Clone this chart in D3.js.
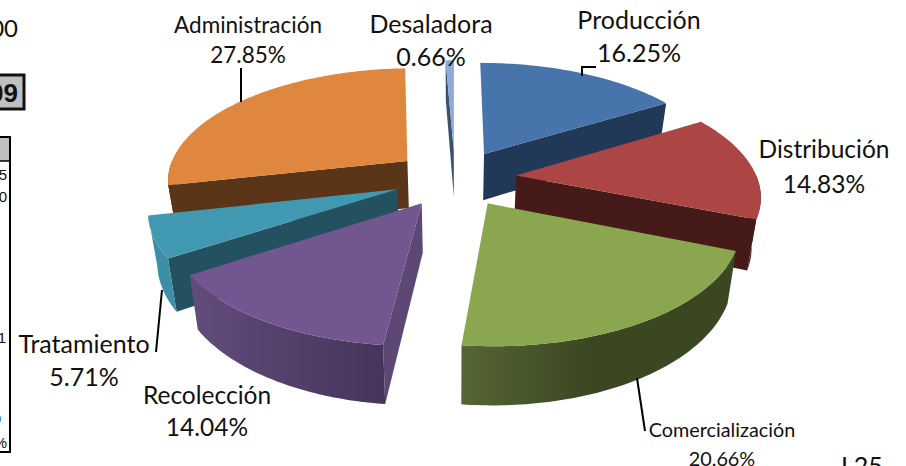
<!DOCTYPE html>
<html>
<head>
<meta charset="utf-8" />
<title>Pie 3D</title>
<script src="https://cdn.jsdelivr.net/npm/d3@7/dist/d3.min.js"></script>
<style>
	html, body { margin: 0; padding: 0; background: #fff; overflow: hidden; }
	svg { display: block; }
	text { font-family: Lato, "Noto Sans", sans-serif; fill: #111; }
</style>
</head>
<body>
<svg id="chart" width="906" height="466"></svg>
<script>
const categories = ['Producción', 'Distribución', 'Comercialización', 'Recolección', 'Tratamiento', 'Administración', 'Desaladora'];
const shares = [16.25, 14.83, 20.66, 14.04, 5.71, 27.85, 0.66];
const topColors = ['#4674ab', '#ab4644', '#8aa64f', '#725690', '#4199b1', '#df873e', '#8fa9d8'];
const startWallColors = ['#213856', '#451a18', '#3a4721', '#5c4775', '#235160', '#5a3518', '#3c5070'];
const endWallColors = ['#213856', '#451a18', '#3a4721', '#5c4775', '#235160', '#5a3518', '#3c5070'];
// outer wall shading, left colour -> right colour over the given part of its width
const outerLeft = ['#213856', '#451a18', '#566535', '#624c7c', '#3d8fa6', '#5a3518', '#3c5070'];
const outerRight = ['#213856', '#451a18', '#3a4721', '#46345a', '#3d8fa6', '#5a3518', '#3c5070'];
const outerStop = [1, 1, 0.47, 1, 1, 1, 1];
// back to front, same stacking as the original picture
const drawOrder = [5, 6, 0, 1, 2, 4, 3];

// label placement: centre x, first line y, second line y, font size
const labelX = [639, 824, 722, 207, 84, 248, 431];
const labelY1 = [29, 158, 437, 404, 353, 33, 33];
const labelY2 = [62, 193, 466, 436, 386, 63, 66];
const labelSize = [25, 24.5, 19.8, 24.5, 25, 22.5, 25];

const width = 906, height = 466;
const svg = d3.select('#chart');
const defs = svg.append('defs');

const explode = 0.255, depth = 48, persp = 6.46, shrink = 0.03;
const xScale = d3.scaleLinear().domain([-1, 1]).range([455 - 241, 455 + 241]);
const yScale = d3.scaleLinear().domain([-1, 1]).range([178 - 112, 178 + 112]);

// ground plane point -> screen; lift 0 is the top face, 1 the bottom face
function project(px, py, lift) {
	let s = persp / (persp - py);
	let sx = xScale(0) + (xScale(px) - xScale(0)) * s * (1 - shrink * lift);
	let sy = yScale(0) + (yScale(py) - yScale(0)) * s + depth * lift * s;
	return [sx, sy];
}

let slices = d3.pie().sort(null).value(d => d)(shares);

function apex(d) {
	let mid = (d.startAngle + d.endAngle) / 2;
	return [explode * Math.sin(mid), -explode * Math.cos(mid)];
}
function rim(d, a) {
	let c = apex(d);
	return [c[0] + Math.sin(a), c[1] - Math.cos(a)];
}

const line = d3.line();

function rimAngles(d) {
	let n = Math.max(2, Math.ceil((d.endAngle - d.startAngle) / (Math.PI / 180)));
	return d3.range(n + 1).map(i => d.startAngle + (d.endAngle - d.startAngle) * i / n);
}

function radialWall(g, d, a, color) {
	let c = apex(d), p = rim(d, a);
	g.append('path')
		.attr('d', line([project(c[0], c[1], 0), project(p[0], p[1], 0), project(p[0], p[1], 1), project(c[0], c[1], 1)]) + 'Z')
		.style('fill', color);
}

function outerWall(g, d, i, angles) {
	let front = angles.filter(a => Math.cos(a) <= 0.02);
	if (front.length < 2) return;
	let upper = front.map(a => { let p = rim(d, a); return project(p[0], p[1], 0); });
	let lower = front.map(a => { let p = rim(d, a); return project(p[0], p[1], 1); }).reverse();
	let pts = upper.concat(lower);
	let grad = defs.append('linearGradient')
		.attr('id', 'wall' + i)
		.attr('gradientUnits', 'userSpaceOnUse')
		.attr('x1', d3.min(pts, p => p[0])).attr('x2', d3.max(pts, p => p[0]))
		.attr('y1', 0).attr('y2', 0);
	grad.append('stop').attr('offset', 0).attr('stop-color', outerLeft[i]);
	grad.append('stop').attr('offset', outerStop[i]).attr('stop-color', outerRight[i]);
	g.append('path')
		.attr('d', line(pts) + 'Z')
		.style('fill', 'url(#wall' + i + ')');
}

function drawSlice(i) {
	let d = slices[i];
	let g = svg.append('g').attr('class', 'slice');
	let c = apex(d);
	let angles = rimAngles(d);

	// back walls are hidden by the top face anyway, only front ones are drawn
	if (-Math.sin(d.startAngle) > 0) radialWall(g, d, d.startAngle, startWallColors[i]);
	if (Math.sin(d.endAngle) > 0) radialWall(g, d, d.endAngle, endWallColors[i]);
	outerWall(g, d, i, angles);

	let topPts = [project(c[0], c[1], 0)].concat(angles.map(a => {
		let p = rim(d, a);
		return project(p[0], p[1], 0);
	}));
	g.append('path')
		.attr('d', line(topPts) + 'Z')
		.style('fill', topColors[i]);
}

drawOrder.forEach(drawSlice);

// leader lines
function leader(pts) {
	svg.append('path')
		.attr('d', line(pts))
		.style('fill', 'none')
		.style('stroke', '#000')
		.style('stroke-width', 2);
}
leader([[582, 76], [582, 67], [596, 67]]);
leader([[241, 68], [241, 102]]);
leader([[162, 290], [156, 352]]);
leader([[637, 378], [645, 431]]);

// labels
categories.forEach((name, i) => {
	svg.append('text')
		.attr('x', labelX[i]).attr('y', labelY1[i])
		.attr('text-anchor', 'middle')
		.style('font-size', labelSize[i] + 'px')
		.text(name);
	svg.append('text')
		.attr('x', labelX[i]).attr('y', labelY2[i])
		.attr('text-anchor', 'middle')
		.style('font-size', labelSize[i] + 'px')
		.text(shares[i].toFixed(2) + '%');
});

// bits of the neighbouring page content cut off by the crop
svg.append('text').attr('x', 18).attr('y', 37).attr('text-anchor', 'end')
	.style('font-size', '24px').text('00');
svg.append('rect').attr('x', -10).attr('y', 75).attr('width', 34).attr('height', 34)
	.style('fill', '#c0c0c0').style('stroke', '#111').style('stroke-width', 3);
svg.append('text').attr('x', 18).attr('y', 102).attr('text-anchor', 'end')
	.style('font-family', '"Liberation Sans"').style('font-weight', 'bold').style('font-size', '26px').text('09');
svg.append('rect').attr('x', -10).attr('y', 137).attr('width', 20).attr('height', 24)
	.style('fill', '#c0c0c0');
svg.append('path')
	.attr('d', line([[0, 137], [10, 137], [10, 452], [0, 452]]))
	.style('fill', 'none').style('stroke', '#000').style('stroke-width', 2);
svg.append('path')
	.attr('d', line([[0, 161], [11, 161]]))
	.style('stroke', '#000').style('stroke-width', 1.5);
const cutX = [7, 7, 6, 1, 7];
const cutY = [180, 202, 343, 424, 448];
const cutText = ['5', '0', '1', '0', '%'];
cutText.forEach((t, i) => {
	svg.append('text').attr('x', cutX[i]).attr('y', cutY[i]).attr('text-anchor', 'end')
		.style('font-family', '"Liberation Sans"').style('font-size', '15px').text(t);
});
svg.append('text').attr('x', 841).attr('y', 475)
	.style('font-size', '25px').text('L25');
</script>
</body>
</html>
